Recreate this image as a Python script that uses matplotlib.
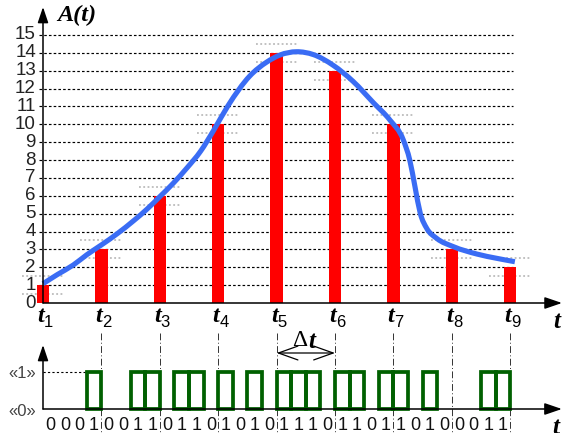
import matplotlib
matplotlib.use("Agg")
import matplotlib.pyplot as plt
from matplotlib.patches import Rectangle, PathPatch
from matplotlib.path import Path
from matplotlib.transforms import offset_copy

# ---- data -------------------------------------------------------------
sample_index = [0, 1, 2, 3, 4, 5, 6, 7, 8]          # t1 ... t9
sample_labels = ["1", "2", "3", "4", "5", "6", "7", "8", "9"]
sample_values = [1, 3, 6, 10, 14, 13, 10, 3, 2]

y_ticks = list(range(0, 16))

# analog signal A(t)
curve_t = [0.0, 0.25, 0.52, 0.75, 1.0, 1.28, 1.55, 1.78, 2.0, 2.23, 2.46,
           2.7, 2.92, 3.17, 3.54, 3.83, 4.06, 4.34, 4.63, 4.97, 5.31,
           5.66, 5.94, 6.17, 6.28, 6.37, 6.46, 6.57, 6.74, 7.03, 7.43, 7.77,
           8.08]
curve_v = [1.08, 1.6, 2.13, 2.7, 3.25, 3.9, 4.6, 5.25, 5.95, 6.7, 7.54,
           8.5, 9.65, 11.05, 12.7, 13.48, 13.88, 14.06, 13.9, 13.3,
           12.4, 11.2, 10.24, 9.12, 8.0, 6.5, 5.02, 4.18, 3.62, 3.15, 2.74,
           2.5, 2.31]

# 4-bit code words sent between consecutive samples
code_words = ["0001", "0011", "0110", "1010", "1110", "1101", "1010", "0011"]


def smooth_path(xs, ys):
    """Piecewise cubic (Hermite as Bezier) path through every node."""
    n = len(xs)
    slopes = [(ys[i + 1] - ys[i]) / (xs[i + 1] - xs[i]) for i in range(n - 1)]
    m = [slopes[0]]
    for i in range(1, n - 1):
        h0 = xs[i] - xs[i - 1]
        h1 = xs[i + 1] - xs[i]
        m.append((slopes[i - 1] * h1 + slopes[i] * h0) / (h0 + h1))
    m.append(slopes[-1])
    verts = [(xs[0], ys[0])]
    codes = [Path.MOVETO]
    for i in range(n - 1):
        h = xs[i + 1] - xs[i]
        verts += [(xs[i] + h / 3, ys[i] + m[i] * h / 3),
                  (xs[i + 1] - h / 3, ys[i + 1] - m[i + 1] * h / 3),
                  (xs[i + 1], ys[i + 1])]
        codes += [Path.CURVE4] * 3
    return Path(verts, codes)


# ---- figure ------------------------------------------------------------
W, H = 562, 433
fig = plt.figure(figsize=(W / 100, H / 100), dpi=100)

# pixel geometry of the upper chart
X0, DX = 43.0, 58.4          # x pixel of t1, spacing between samples
Y0, DY = 303.0, 17.87        # y pixel of level 0, pixels per level

ax = fig.add_axes([0, 0, 1, 1])
ax.set_xlim(-X0 / DX, (W - X0) / DX)
ax.set_ylim((Y0 - H) / DY, Y0 / DY)
ax.axis("off")

serif_bi = dict(family="Liberation Serif", weight="bold", style="italic")
sans = dict(family="Liberation Sans")

# dashed horizontal level lines
for v in y_ticks[1:]:
    ax.plot([-4 / DX, 8.05], [v, v], color="black", lw=0.85,
            dashes=(2.2, 1.8), zorder=1)

# tick labels
for v in y_ticks:
    ax.text(-7 / DX, v, str(v), ha="right", va="center", fontsize=13.5,
            color="#222222", **sans)

# light quantisation-level marks around each sample
for t, v in zip(sample_index, sample_values):
    for dv in (0.5, -0.5):
        ax.plot([t - 0.36, t + 0.36], [v + dv, v + dv], color="#b0b0b0",
                lw=1.1, dashes=(1.2, 1.6), zorder=2)

# sample bars
ax.bar(sample_index, sample_values, width=0.21, color="#ff0000",
       zorder=3, linewidth=0)

# analog curve
ax.add_patch(PathPatch(smooth_path(curve_t, curve_v), facecolor="none",
                       edgecolor="#3a6cf4", lw=3.7, capstyle="butt",
                       joinstyle="round", zorder=4))

# axes with arrows
ax.annotate("", xy=(W / DX - X0 / DX - 0.001, 0), xytext=(0, 0),
            arrowprops=dict(arrowstyle="-|>,head_length=1.05,head_width=0.36",
                            mutation_scale=10, color="black", lw=1.1,
                            shrinkA=0, shrinkB=0), zorder=5)
ax.annotate("", xy=(0, (Y0 - 7) / DY), xytext=(0, 0),
            arrowprops=dict(arrowstyle="-|>,head_length=0.95,head_width=0.32",
                            mutation_scale=10, color="black", lw=1.1,
                            shrinkA=0, shrinkB=0), zorder=5)

# sample labels t1 ... t9
tr_t = offset_copy(ax.transData, fig=fig, x=1, y=3, units="dots")
tr_n = offset_copy(ax.transData, fig=fig, x=1, y=-3, units="dots")
for t, lab in zip(sample_index, sample_labels):
    ax.text(t, -0.95, "t", ha="right", va="center", fontsize=17.5,
            transform=tr_t, **serif_bi)
    ax.text(t, -0.95, lab, ha="left", va="center", fontsize=12,
            transform=tr_n, **sans)

ax.text((557 - X0) / DX, (Y0 - 321) / DY, "t", ha="center", va="center",
        fontsize=18, **serif_bi)
ax.text((57 - X0) / DX, (Y0 - 15) / DY, "A(t)", ha="left", va="center",
        fontsize=17.5, **serif_bi)

# ---- lower chart: pulse code ------------------------------------------
BX = DX / 4.0                # pixels per bit
L0, DL = 409.0, 37.0         # y pixel of level 0, pixels per level

bx = fig.add_axes([0, 0, 1, 1])
bx.set_xlim(-X0 / BX, (W - X0) / BX)
bx.set_ylim((L0 - H) / DL, L0 / DL)
bx.axis("off")
bx.patch.set_alpha(0)

green = "#006000"
bits = "".join(code_words)
for k, b in enumerate(bits):
    if b == "1":
        bx.add_patch(Rectangle((k, 0), 1, 1, fill=False, edgecolor=green,
                               lw=2.7, zorder=3))
    bx.text(k + 0.5, (L0 - 426) / DL, b, ha="center", va="center",
            fontsize=13, color="#111111", **sans)

# sample boundaries
for t in sample_index[1:]:
    bx.plot([4 * t, 4 * t], [(L0 - 333) / DL, (L0 - 432) / DL],
            color="#333333", lw=0.7, dashes=(7, 2.5, 1, 2.5), zorder=1)

# level "1" guide
bx.plot([0, 3], [1, 1], color="black", lw=0.8, dashes=(2, 2), zorder=1)
bx.text(-1.45, (L0 - 373) / DL, "«1»", ha="center", va="center",
        fontsize=12, color="#444444", **sans)
bx.text(-1.45, (L0 - 411) / DL, "«0»", ha="center", va="center",
        fontsize=12, color="#444444", **sans)

bx.annotate("", xy=((W - X0) / BX - 0.01, 0), xytext=(0, 0),
            arrowprops=dict(arrowstyle="-|>,head_length=1.05,head_width=0.36",
                            mutation_scale=10, color="black", lw=1.1,
                            shrinkA=0, shrinkB=0), zorder=5)
bx.annotate("", xy=(0, (L0 - 345) / DL), xytext=(0, 0),
            arrowprops=dict(arrowstyle="-|>,head_length=0.95,head_width=0.32",
                            mutation_scale=10, color="black", lw=1.1,
                            shrinkA=0, shrinkB=0), zorder=5)
bx.text((556 - X0) / BX, (L0 - 427) / DL, "t", ha="center", va="center",
        fontsize=18, **serif_bi)

# sampling interval Δt
bx.annotate("", xy=(16, (L0 - 353) / DL), xytext=(20, (L0 - 353) / DL),
            arrowprops=dict(arrowstyle="<->,head_length=1.4,head_width=0.5",
                            mutation_scale=10, color="black", lw=0.9,
                            shrinkA=0, shrinkB=0))
bx.text((307 - X0) / BX, (L0 - 341) / DL, "Δ", ha="right", va="center",
        fontsize=17, family="Liberation Serif")
bx.text((308 - X0) / BX, (L0 - 341) / DL, "t", ha="left", va="center",
        fontsize=18, **serif_bi)

fig.savefig("out.png", dpi=100)
